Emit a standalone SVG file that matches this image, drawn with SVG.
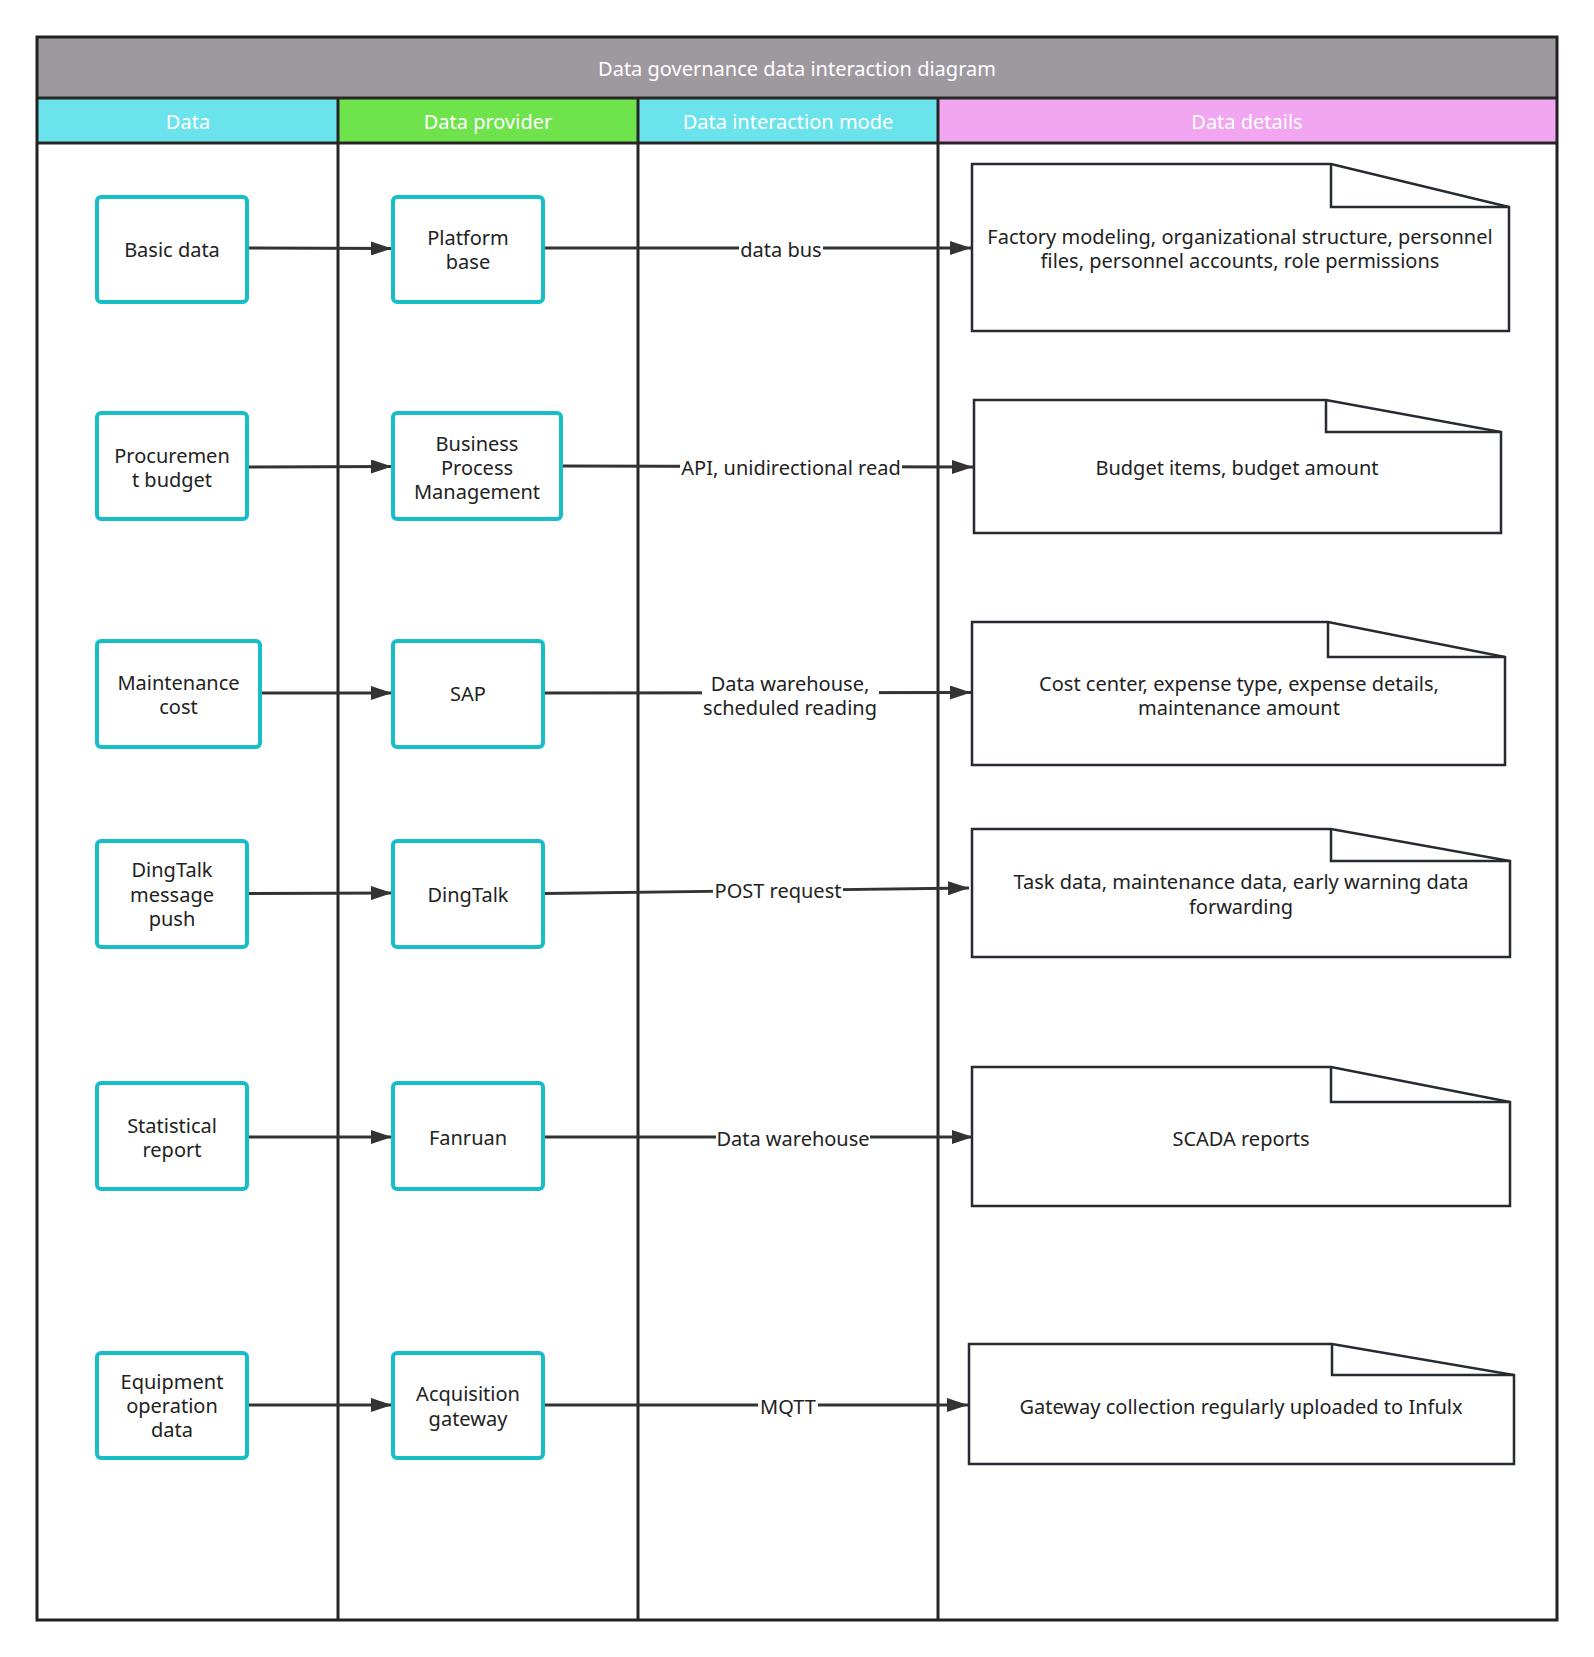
<svg xmlns="http://www.w3.org/2000/svg" width="1594" height="1657" viewBox="0 0 1594 1657">
<style>
text{font-family:"Noto Sans","Liberation Sans",sans-serif;font-size:20px;fill:#222;text-anchor:middle;dominant-baseline:central}
.hd{fill:#fff}
.box{fill:#fff;stroke:#17BEC8;stroke-width:4}
.doc{fill:#fff;stroke:#262b31;stroke-width:2.5;stroke-linejoin:miter}
.fold{fill:none;stroke:#262b31;stroke-width:2.5}
.ln{stroke:#262626;stroke-width:3;fill:none}
.edge{stroke:#333;stroke-width:2.8;fill:none;marker-end:url(#ah)}
.lbg{fill:#fff}
</style>
<defs>
<marker id="ah" markerUnits="userSpaceOnUse" markerWidth="22" markerHeight="14" refX="21" refY="7" orient="auto">
<path d="M0,0 L21,7 L0,14 Z" fill="#333"/>
</marker>
</defs>
<rect width="1594" height="1657" fill="#fff"/>
<g id="pool">
<rect x="37" y="37" width="1520" height="61" fill="#9E999F"/>
<rect x="37" y="98" width="301" height="45" fill="#6BE3EC"/>
<rect x="338" y="98" width="300" height="45" fill="#6FE34B"/>
<rect x="638" y="98" width="300" height="45" fill="#6BE3EC"/>
<rect x="938" y="98" width="619" height="45" fill="#F2A6F2"/>
<line class="ln" x1="37" y1="98" x2="1557" y2="98"/>
<line class="ln" x1="37" y1="143" x2="1557" y2="143"/>
<line class="ln" x1="338" y1="98" x2="338" y2="1620"/>
<line class="ln" x1="638" y1="98" x2="638" y2="1620"/>
<line class="ln" x1="938" y1="98" x2="938" y2="1620"/>
<rect x="37" y="37" width="1520" height="1583" fill="none" stroke="#222" stroke-width="3"/>
<text class="hd" x="797" y="68">Data governance data interaction diagram</text>
<text class="hd" x="188" y="121">Data</text>
<text class="hd" x="488" y="121">Data provider</text>
<text class="hd" x="788" y="121">Data interaction mode</text>
<text class="hd" x="1247" y="121">Data details</text>
</g>
<g id="connectors">
<line class="edge" x1="249" y1="248" x2="392" y2="248.5"/>
<line class="edge" x1="545" y1="248" x2="971" y2="248"/>
<line class="edge" x1="249" y1="467" x2="392" y2="466.5"/>
<line class="edge" x1="563" y1="466" x2="973" y2="467"/>
<line class="edge" x1="262" y1="693" x2="392" y2="693"/>
<line class="edge" x1="545" y1="693" x2="971" y2="692.5"/>
<line class="edge" x1="249" y1="893.5" x2="392" y2="893"/>
<line class="edge" x1="545" y1="893.5" x2="969" y2="888"/>
<line class="edge" x1="249" y1="1137" x2="392" y2="1137"/>
<line class="edge" x1="545" y1="1137" x2="973" y2="1137"/>
<line class="edge" x1="249" y1="1405" x2="392" y2="1405"/>
<line class="edge" x1="545" y1="1405" x2="968" y2="1405"/>
<rect class="lbg" x="739" y="236" width="84" height="24"/>
<text x="781" y="249">data bus</text>
<rect class="lbg" x="680" y="455" width="222" height="24"/>
<text x="791" y="467">API, unidirectional read</text>
<rect class="lbg" x="702" y="670" width="177" height="50"/>
<text x="790" y="683">Data warehouse,</text>
<text x="790" y="707">scheduled reading</text>
<rect class="lbg" x="713" y="878" width="130" height="24"/>
<text x="778" y="890">POST request</text>
<rect class="lbg" x="716" y="1125" width="154" height="24"/>
<text x="793" y="1138">Data warehouse</text>
<rect class="lbg" x="758" y="1393" width="60" height="24"/>
<text x="788" y="1406">MQTT</text>
</g>
<g id="n-basic-data"><rect class="box" x="97" y="197" width="150" height="105" rx="4"/><text x="172" y="249.5">Basic data</text></g>
<g id="n-platform-base"><rect class="box" x="393" y="197" width="150" height="105" rx="4"/><text x="468" y="237">Platform</text><text x="468" y="261">base</text></g>
<g id="n-procurement-budget"><rect class="box" x="97" y="413" width="150" height="106" rx="4"/><text x="172" y="455">Procuremen</text><text x="172" y="479">t budget</text></g>
<g id="n-bpm"><rect class="box" x="393" y="413" width="168" height="106" rx="4"/><text x="477" y="443">Business</text><text x="477" y="467">Process</text><text x="477" y="491">Management</text></g>
<g id="n-maintenance-cost"><rect class="box" x="97" y="641" width="163" height="106" rx="4"/><text x="178.5" y="682">Maintenance</text><text x="178.5" y="706">cost</text></g>
<g id="n-sap"><rect class="box" x="393" y="641" width="150" height="106" rx="4"/><text x="468" y="693">SAP</text></g>
<g id="n-dingtalk-push"><rect class="box" x="97" y="841" width="150" height="106" rx="4"/><text x="172" y="869">DingTalk</text><text x="172" y="894">message</text><text x="172" y="918">push</text></g>
<g id="n-dingtalk"><rect class="box" x="393" y="841" width="150" height="106" rx="4"/><text x="468" y="894">DingTalk</text></g>
<g id="n-statistical-report"><rect class="box" x="97" y="1083" width="150" height="106" rx="4"/><text x="172" y="1125">Statistical</text><text x="172" y="1149">report</text></g>
<g id="n-fanruan"><rect class="box" x="393" y="1083" width="150" height="106" rx="4"/><text x="468" y="1137">Fanruan</text></g>
<g id="n-equipment-data"><rect class="box" x="97" y="1353" width="150" height="105" rx="4"/><text x="172" y="1381">Equipment</text><text x="172" y="1405">operation</text><text x="172" y="1429">data</text></g>
<g id="n-acq-gateway"><rect class="box" x="393" y="1353" width="150" height="105" rx="4"/><text x="468" y="1393">Acquisition</text><text x="468" y="1418">gateway</text></g>
<g id="d1"><path class="doc" d="M972,164 H1331 L1509,207 V331 H972 Z"/><path class="fold" d="M1331,164 V207 H1509"/><text x="1240" y="236">Factory modeling, organizational structure, personnel</text><text x="1240" y="260">files, personnel accounts, role permissions</text></g>
<g id="d2"><path class="doc" d="M974,400 H1326 L1501,432 V533 H974 Z"/><path class="fold" d="M1326,400 V432 H1501"/><text x="1237" y="467">Budget items, budget amount</text></g>
<g id="d3"><path class="doc" d="M972,622 H1328 L1505,657 V765 H972 Z"/><path class="fold" d="M1328,622 V657 H1505"/><text x="1239" y="683">Cost center, expense type, expense details,</text><text x="1239" y="707">maintenance amount</text></g>
<g id="d4"><path class="doc" d="M972,829 H1331 L1510,861 V957 H972 Z"/><path class="fold" d="M1331,829 V861 H1510"/><text x="1241" y="881">Task data, maintenance data, early warning data</text><text x="1241" y="906">forwarding</text></g>
<g id="d5"><path class="doc" d="M972,1067 H1331 L1510,1102 V1206 H972 Z"/><path class="fold" d="M1331,1067 V1102 H1510"/><text x="1241" y="1138">SCADA reports</text></g>
<g id="d6"><path class="doc" d="M969,1344 H1332 L1514,1375 V1464 H969 Z"/><path class="fold" d="M1332,1344 V1375 H1514"/><text x="1241" y="1406">Gateway collection regularly uploaded to Infulx</text></g>
</svg>
